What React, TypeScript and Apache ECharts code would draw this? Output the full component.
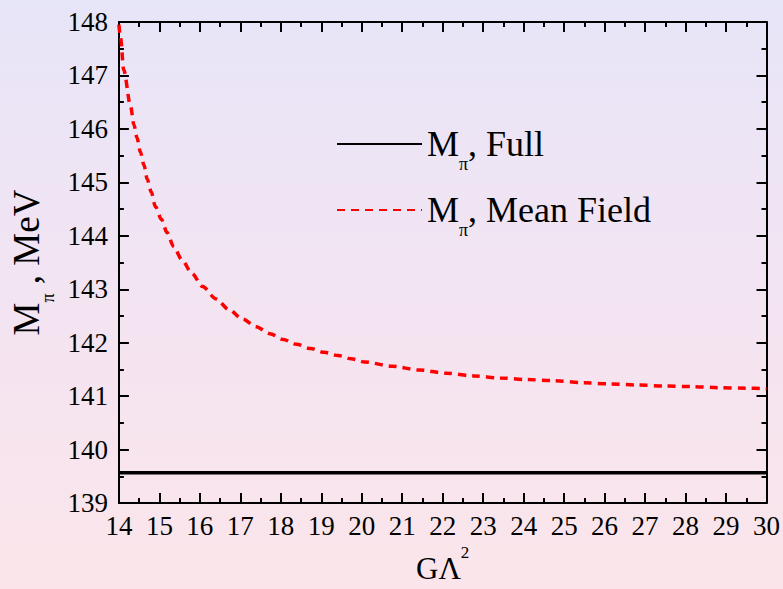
import React, { useEffect, useRef } from "react";
import * as echarts from "echarts";

// G*Lambda^2 (x) and pion mass (MeV)
const gLambda2 = [
  14.0, 14.04, 14.12, 14.29, 14.37, 14.45, 14.53, 14.62, 14.7, 14.8, 14.9, 15.05,
  15.19, 15.35, 15.56, 15.8, 16.07, 16.4, 16.72, 17.06, 17.39, 17.73, 18.06, 18.39,
  18.74, 19.07, 19.42, 19.74, 20.07, 20.75, 21.41, 22.08, 22.76, 23.42, 24.09, 24.75,
  25.49, 26.14, 26.8, 27.5, 28.15, 28.81, 29.5, 30.0,
];
const mMeanField = [
  147.95, 147.71, 147.1, 146.42, 146.08, 145.83, 145.57, 145.32, 145.06, 144.82, 144.55, 144.31,
  144.06, 143.8, 143.55, 143.3, 143.05, 142.82, 142.62, 142.44, 142.3, 142.17, 142.06, 141.97,
  141.89, 141.82, 141.76, 141.7, 141.64, 141.56, 141.49, 141.43, 141.38, 141.34, 141.31, 141.29,
  141.25, 141.23, 141.21, 141.19, 141.18, 141.16, 141.15, 141.14,
];
const fullX = [14, 30];
const mFull = [139.57, 139.57];

const seriesNames = ["Mπ, Full", "Mπ, Mean Field"];
const legendTails = [", Full", ", Mean Field"];
const xRange = [14, 30];
const yRange = [139, 148];

const FONT = "Liberation Serif, Times New Roman, serif";

export default function App() {
  const ref = useRef<HTMLDivElement>(null);
  useEffect(() => {
    if (!ref.current) return;
    const chart = echarts.init(ref.current, null, { renderer: "svg" });
    const axisLine = { show: true, lineStyle: { color: "#000", width: 2 } };
    const tick = { show: true, inside: true, length: 10, lineStyle: { color: "#000", width: 2 } };
    const minor = { show: true, splitNumber: 2, length: 5, lineStyle: { color: "#000", width: 2 } };
    const baseAxis = (extra: any) => ({
      type: "value",
      interval: 1,
      axisLine,
      axisTick: tick,
      minorTick: minor,
      splitLine: { show: false },
      axisLabel: { show: false },
      ...extra,
    });
    chart.setOption({
      animation: false,
      backgroundColor: "transparent",
      textStyle: { fontFamily: FONT, color: "#000" },
      grid: { left: 117, right: 16, top: 22, bottom: 84 },
      legend: {
        orient: "vertical",
        left: 336,
        top: 115,
        padding: 0,
        itemGap: 8,
        itemWidth: 85,
        itemHeight: 14,
        selectedMode: false,
        data: seriesNames,
        itemStyle: { opacity: 0 },
        formatter: (name: string) => `{m|M}{s|π}{m|${legendTails[seriesNames.indexOf(name)]}}`,
        textStyle: {
          fontFamily: FONT,
          fontSize: 36,
          color: "#000",
          rich: {
            m: { fontFamily: FONT, fontSize: 36, color: "#000", padding: [11, 0, 0, 0], lineHeight: 47, verticalAlign: "top" },
            s: { fontFamily: FONT, fontSize: 18, color: "#000", padding: [40, 0, 0, 0], lineHeight: 58, verticalAlign: "top" },
          },
        },
      },
      xAxis: [
        baseAxis({
          position: "bottom",
          min: xRange[0],
          max: xRange[1],
          name: "{m|GΛ}{sup|2}",
          nameLocation: "middle",
          nameGap: 40,
          nameTextStyle: {
            rich: {
              m: { fontFamily: FONT, fontSize: 31, color: "#000", padding: [9, 0, 0, 0], lineHeight: 40, verticalAlign: "top" },
              sup: { fontFamily: FONT, fontSize: 17, color: "#000", lineHeight: 17, verticalAlign: "top" },
            },
          },
          axisLabel: { show: true, margin: 9, fontFamily: FONT, fontSize: 27, color: "#000" },
        }),
        baseAxis({ position: "top", min: xRange[0], max: xRange[1] }),
      ],
      yAxis: [
        baseAxis({
          position: "left",
          min: yRange[0],
          max: yRange[1],
          name: "{m|M}{s|π}{m| , MeV}",
          nameLocation: "middle",
          nameGap: 62,
          nameTextStyle: {
            rich: {
              m: { fontFamily: FONT, fontSize: 37, color: "#000", lineHeight: 37, verticalAlign: "top" },
              s: { fontFamily: FONT, fontSize: 18, color: "#000", padding: [30.5, 0, 0, 0], lineHeight: 48.5, verticalAlign: "top" },
            },
          },
          axisLabel: { show: true, margin: 11, fontFamily: FONT, fontSize: 27, color: "#000" },
        }),
        baseAxis({ position: "right", min: yRange[0], max: yRange[1] }),
      ],
      series: [
        {
          name: seriesNames[0],
          type: "line",
          xAxisIndex: 0,
          yAxisIndex: 0,
          symbol: "none",
          data: fullX.map((x, i) => [x, mFull[i]]),
          lineStyle: { color: "#000", width: 3.5 },
          itemStyle: { color: "#000" },
          z: 3,
        },
        {
          name: seriesNames[1],
          type: "line",
          xAxisIndex: 0,
          yAxisIndex: 0,
          symbol: "none",
          smooth: 0.3,
          smoothMonotone: "x",
          data: gLambda2.map((x, i) => [x, mMeanField[i]]),
          lineStyle: { color: "#ff0000", width: 3.5, type: [8, 6] },
          itemStyle: { color: "#ff0000" },
          z: 3,
        },
      ],
    });
    return () => chart.dispose();
  }, []);
  return (
    <div
      style={{
        position: "fixed",
        left: 0,
        top: 0,
        width: 783,
        height: 589,
        background: "linear-gradient(to bottom, #e7e5f8 0%, #f3e4f2 50%, #fbe5ea 100%)",
      }}
    >
      <div ref={ref} style={{ width: 783, height: 589 }} />
    </div>
  );
}
